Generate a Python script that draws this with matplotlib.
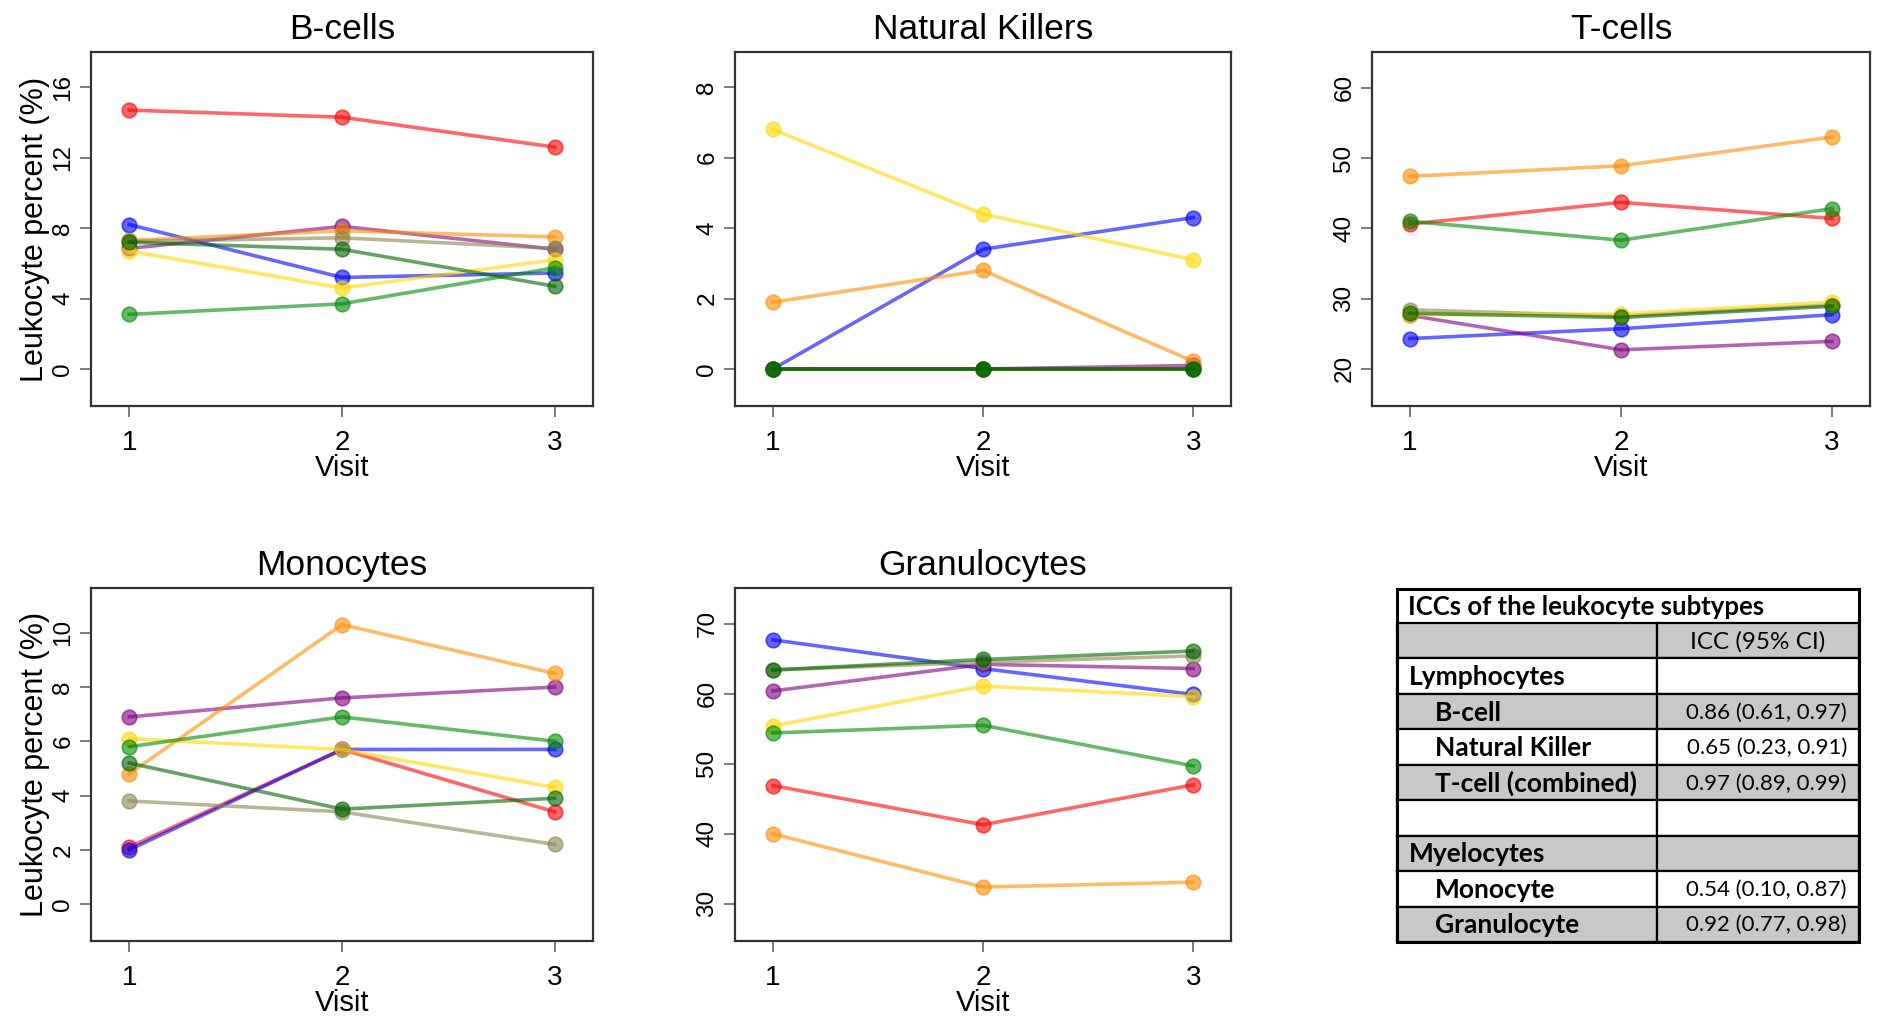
# import libraries
import matplotlib
matplotlib.use("Agg")
import matplotlib.pyplot as plt
from matplotlib.patches import Rectangle

plt.rcParams['font.family'] = ['Liberation Sans', 'DejaVu Sans']

# visits on the x axis
visits = [1, 2, 3]

# one colour per subject (same subject = same colour in every panel)
subject_colors = ["red", "blue", "purple", "darkorange", "#8B864E", "gold", "#008B00", "darkgreen"]

# leukocyte percent per subject, visit 1-3
b_cells = [[14.7, 14.3, 12.6], [8.2, 5.2, 5.45], [6.85, 8.1, 6.8], [7.3, 7.85, 7.5],
           [7.25, 7.45, 6.85], [6.7, 4.6, 6.2], [3.1, 3.7, 5.75], [7.2, 6.8, 4.7]]
nk_cells = [[0, 0, 0], [0, 3.4, 4.3], [0, 0, 0.1], [1.9, 2.8, 0.22],
            [0, 0, 0], [6.8, 4.4, 3.1], [0, 0, 0], [0, 0, 0]]
t_cells = [[40.6, 43.7, 41.4], [24.3, 25.7, 27.7], [27.6, 22.7, 23.9], [47.4, 48.9, 53.0],
           [28.4, 27.5, 29.1], [27.7, 27.8, 29.5], [41.0, 38.3, 42.8], [27.9, 27.3, 28.9]]
monocytes = [[2.1, 5.7, 3.4], [2.0, 5.7, 5.7], [6.9, 7.6, 8.0], [4.8, 10.3, 8.5],
             [3.8, 3.4, 2.2], [6.1, 5.7, 4.3], [5.8, 6.9, 6.0], [5.2, 3.5, 3.9]]
granulocytes = [[46.9, 41.3, 47.0], [67.7, 63.6, 59.9], [60.4, 64.2, 63.6], [40.0, 32.4, 33.1],
                [63.4, 64.5, 65.4], [55.4, 61.1, 59.6], [54.4, 55.5, 49.7], [63.4, 64.9, 66.1]]

# the ICC table
table_title = "ICCs of the leukocyte subtypes"
table_header = "ICC (95% CI)"
row_labels = ["Lymphocytes", "B-cell", "Natural Killer", "T-cell (combined)", "",
              "Myelocytes", "Monocyte", "Granulocyte"]
row_values = ["", "0.86 (0.61, 0.97)", "0.65 (0.23, 0.91)", "0.97 (0.89, 0.99)", "",
              "", "0.54 (0.10, 0.87)", "0.92 (0.77, 0.98)"]
row_indent = [False, True, True, True, False, False, True, True]

W, H = 1877, 1017
fig = plt.figure(figsize=(W / 100, H / 100), dpi=100)

# panel: title, data, y ticks, y limits, box in pixels (left, right, top, bottom), y label?
panels = [
    ("B-cells", b_cells, [0, 4, 8, 12, 16], (-2.1, 18.0), (91, 593, 52, 406), True),
    ("Natural Killers", nk_cells, [0, 2, 4, 6, 8], (-1.05, 9.0), (735, 1231, 52, 406), False),
    ("T-cells", t_cells, [20, 30, 40, 50, 60], (14.7, 65.1), (1372, 1870, 52, 406), False),
    ("Monocytes", monocytes, [0, 2, 4, 6, 8, 10], (-1.36, 11.65), (91, 593, 588, 941), True),
    ("Granulocytes", granulocytes, [30, 40, 50, 60, 70], (24.7, 75.1), (735, 1231, 588, 941), False),
]

for title, data, yticks, ylim, box, ylab in panels:
    l, r, t, b = box
    ax = fig.add_axes([l / W, 1 - b / H, (r - l) / W, (b - t) / H])
    for vals, col in zip(data, subject_colors):
        ax.plot(visits, vals, '-o', color=col, alpha=0.6, lw=2.6, ms=10.5, mec=col, mew=1.2)
    ax.set_xlim(0.82, 3.18)
    ax.set_ylim(ylim)
    ax.set_xticks(visits)
    ax.set_yticks(yticks)
    ax.tick_params(axis='x', labelsize=20, length=8, width=1.2, color='#666666', pad=9)
    ax.tick_params(axis='y', labelsize=17.5, length=8, width=1.2, color='#666666', pad=4, labelrotation=90)
    for lbl in ax.get_yticklabels():
        lbl.set_va('center')
    for s in ax.spines.values():
        s.set_linewidth(1.6)
        s.set_color('#333333')
    ax.set_title(title, fontsize=25.5, pad=9)
    ax.set_xlabel("Visit", fontsize=21, labelpad=-1)
    if ylab:
        ax.set_ylabel("Leukocyte percent (%)", fontsize=22, labelpad=2)

# draw the table in pixel coordinates
tab = fig.add_axes([0, 0, 1, 1])
tab.set_xlim(0, W)
tab.set_ylim(H, 0)
tab.axis('off')
tleft, tright, tdiv, ttop, tbottom = 1397, 1859, 1657, 589, 942
title_h = 34
row_h = (tbottom - ttop - title_h) / (len(row_labels) + 1)
tfont = ['Lato', 'DejaVu Sans']

tab.add_patch(Rectangle((tleft, ttop), tright - tleft, title_h, fc='white', ec='black', lw=1.8))
tab.text(tleft + 11, ttop + title_h / 2 + 1, table_title, fontsize=18.5, fontweight='bold',
         family=tfont, va='center', ha='left')

all_labels = [""] + row_labels
all_values = [table_header] + row_values
all_indent = [False] + row_indent
for i in range(len(all_labels)):
    y0 = ttop + title_h + i * row_h
    fc = '#C8C8C8' if i % 2 == 0 else 'white'
    tab.add_patch(Rectangle((tleft, y0), tdiv - tleft, row_h, fc=fc, ec='black', lw=1.6))
    tab.add_patch(Rectangle((tdiv, y0), tright - tdiv, row_h, fc=fc, ec='black', lw=1.6))
    x_lab = tleft + (38 if all_indent[i] else 12)
    tab.text(x_lab, y0 + row_h / 2 + 1, all_labels[i], fontsize=19, fontweight='bold',
             family=tfont, va='center', ha='left')
    if i == 0:
        tab.text((tdiv + tright) / 2, y0 + row_h / 2 + 1, all_values[i], fontsize=17.5,
                 family=tfont, va='center', ha='center')
    else:
        tab.text(tright - 12, y0 + row_h / 2 + 1, all_values[i], fontsize=16,
                 family=tfont, va='center', ha='right')
tab.add_patch(Rectangle((tleft, ttop), tright - tleft, tbottom - ttop, fc='none', ec='black', lw=2.2))

fig.savefig("out.png", dpi=100)
